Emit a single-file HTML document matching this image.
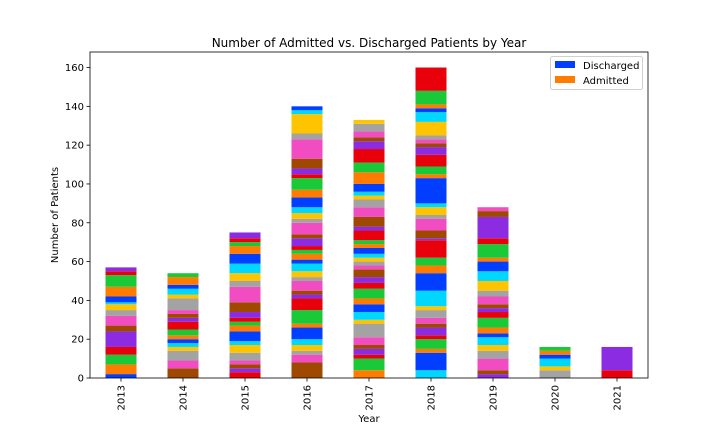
<!DOCTYPE html>
<html><head><meta charset="utf-8">
<style>
html,body{margin:0;padding:0;background:#fff;}
svg{display:block;font-family:"DejaVu Sans","Liberation Sans",sans-serif;}
</style></head>
<body>
<svg id="chart" width="720" height="432" viewBox="0 0 720 432">
<rect x="0" y="0" width="720" height="432" fill="#fff"/>
<text x="369" y="47" text-anchor="middle" font-size="12" fill="#000">Number of Admitted vs. Discharged Patients by Year</text>
<g id="bars"></g>
<g id="axes"></g>
<text x="369" y="422" text-anchor="middle" font-size="10">Year</text>
<text transform="translate(58,215) rotate(-90)" text-anchor="middle" font-size="10">Number of Patients</text>
<g>
<rect x="550.5" y="56.5" width="92" height="33" rx="2" fill="#fff" stroke="#d0d0d0"/>
<rect x="555" y="61" width="20" height="7" fill="#023eff"/>
<text x="583" y="69" font-size="10">Discharged</text>
<rect x="555" y="76" width="20" height="7" fill="#ff7c00"/>
<text x="583" y="84" font-size="10">Admitted</text>
</g>
</svg>
<script>
const categories = ["2013","2014","2015","2016","2017","2018","2019","2020","2021"];
const seriesStart = [0,5,3,5,1,9,4,7,3];
const values2013 = [2,5,5,4,8,3,5,3,3,1,3,5,6,2,2];
const values2014 = [5,4,5,2,2,2,2,3,4,2,2,2,6,2,3,2,4,2];
const values2015 = [3,2,2,2,4,4,2,5,3,2,2,3,5,8,3,4,5,5,4,2,2,3];
const values2016 = [8,4,2,3,3,6,2,7,6,2,2,5,2,3,4,2,3,2,2,4,2,6,2,3,3,5,4,6,2,3,5,10,3,10,2,2];
const values2017 = [4,6,2,3,2,4,7,2,4,4,3,5,3,3,4,2,2,2,2,3,2,2,5,2,5,5,4,2,2,4,6,5,7,4,2,3,4,2];
const values2018 = [4,9,2,5,2,4,2,3,4,2,8,9,4,4,9,1,4,6,2,4,2,13,2,4,6,4,2,2,2,7,5,2,2,7,12];
const values2019 = [2,2,6,4,3,4,2,3,5,3,2,2,4,3,5,5,5,2,7,3,11,3,2];
const values2020 = [4,2,4,2,2,2];
const values2021 = [4,12];
const yTicks = [0,20,40,60,80,100,120,140,160];
const palette = ['#023eff','#ff7c00','#1ac938','#e8000b','#8b2be2','#9f4800','#f14cc1','#a3a3a3','#ffc400','#00d7ff'];

const allValues = [values2013,values2014,values2015,values2016,values2017,values2018,values2019,values2020,values2021];
const L=90,R=648,T=52,B=378,yMax=168;
const NS='http://www.w3.org/2000/svg';
function yScale(v){return B-(v/yMax)*(B-T);}
const band=(R-L)/categories.length;
function xCenter(i){return L+band*(i+0.5);}
const bw=band*0.5;
const bars=document.getElementById('bars');
const axes=document.getElementById('axes');
function mk(tag,attrs,parent){const e=document.createElementNS(NS,tag);for(const k in attrs)e.setAttribute(k,attrs[k]);parent.appendChild(e);return e;}

allValues.forEach((vals,i)=>{
  let cum=0;
  vals.forEach((v,j)=>{
    const y0=yScale(cum),y1=yScale(cum+v);
    const r=mk('rect',{x:xCenter(i)-bw/2,y:y1,width:bw,height:y0-y1,fill:palette[(seriesStart[i]+j)%10]},bars);
    
    
    cum+=v;
  });
});

const frame=mk('rect',{x:L,y:T,width:R-L,height:B-T,fill:'none',stroke:'#000','stroke-width':0.8},axes);



yTicks.forEach(t=>{
  const y=yScale(t);
  const tk=mk('line',{x1:L-3.5,x2:L,y1:y,y2:y,stroke:'#000','stroke-width':0.8},axes);
  
  
  const lb=mk('text',{x:L-6,y:y+3.5,'text-anchor':'end','font-size':10},axes);
  lb.textContent=t;
  
  
});
categories.forEach((c,i)=>{
  const x=xCenter(i);
  const tk=mk('line',{x1:x,x2:x,y1:B,y2:B+3.5,stroke:'#000','stroke-width':0.8},axes);
  
  
  const lb=mk('text',{transform:'translate('+(x+3.5)+','+(B+7)+') rotate(-90)','text-anchor':'end','font-size':10},axes);
  lb.textContent=c;
  
  
});
</script>
</body></html>
